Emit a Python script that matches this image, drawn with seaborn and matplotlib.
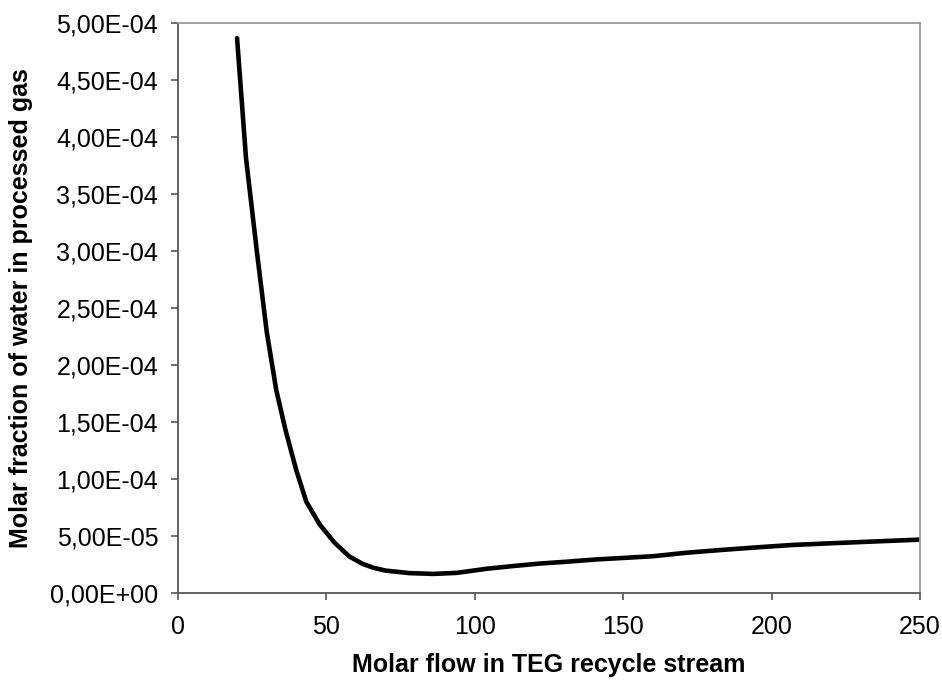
import numpy as np
import matplotlib
matplotlib.use("Agg")
import matplotlib.pyplot as plt
from matplotlib.ticker import FuncFormatter, MultipleLocator
import seaborn as sns
import pandas as pd

# TEG recycle flow vs. water left in the dried gas
flow = [20, 23, 26.7, 30, 33.2, 36.3, 39.9, 43.3, 47.8, 52.8, 57.8, 62.3,
        66, 70, 78, 86, 94, 104, 113, 122, 131, 141, 150, 160, 171, 183,
        195, 207, 220, 233, 250]
water = [4.87, 3.82, 2.99, 2.29, 1.78, 1.43, 1.08, 0.80, 0.60, 0.44,
         0.318, 0.253, 0.218, 0.194, 0.172, 0.165, 0.174, 0.210, 0.234,
         0.256, 0.272, 0.292, 0.305, 0.320, 0.350, 0.375, 0.398, 0.419,
         0.434, 0.448, 0.466]
water = [w * 1e-4 for w in water]

XLABEL = 'Molar flow in TEG recycle stream'
YLABEL = 'Molar fraction of water in processed gas'

sns.set_style("ticks")
plt.rcParams['font.family'] = ['Liberation Sans', 'DejaVu Sans']
plt.rcParams['text.color'] = 'black'
plt.rcParams['axes.labelcolor'] = 'black'

df = pd.DataFrame({'flow': flow, 'water': water})

fig, ax = plt.subplots(figsize=(9.42, 6.84), dpi=100)
fig.subplots_adjust(left=0.1886, right=0.9767, bottom=0.1335, top=0.9659)

sns.lineplot(data=df, x='flow', y='water', color='black', linewidth=3.3,
             solid_capstyle='round', solid_joinstyle='round', ax=ax)

ax.set_xlim(0, 250)
ax.set_ylim(0, 5e-4)
ax.xaxis.set_major_locator(MultipleLocator(50))
ax.yaxis.set_major_locator(MultipleLocator(5e-5))
ax.yaxis.set_major_formatter(
    FuncFormatter(lambda v, _: f"{v:.2E}".replace('.', ',')))

# excel-ish frame: dark axes, light plot-area border
for side in ('left', 'bottom'):
    ax.spines[side].set_color('#555555')
    ax.spines[side].set_linewidth(1.3)
for side in ('top', 'right'):
    ax.spines[side].set_visible(True)
    ax.spines[side].set_color('#999999')
    ax.spines[side].set_linewidth(1.3)

ax.tick_params(axis='both', direction='out', length=5, width=1.2,
               color='#555555', labelsize=18, labelcolor='black')
ax.tick_params(axis='y', pad=9)
ax.tick_params(axis='x', pad=11)

ax.set_xlabel(XLABEL, fontsize=18, fontweight='bold', labelpad=10,
              color='black')
ax.set_ylabel(YLABEL, fontsize=18, fontweight='bold', labelpad=12,
              color='black')

fig.savefig('out.png', dpi=100)
plt.close()
